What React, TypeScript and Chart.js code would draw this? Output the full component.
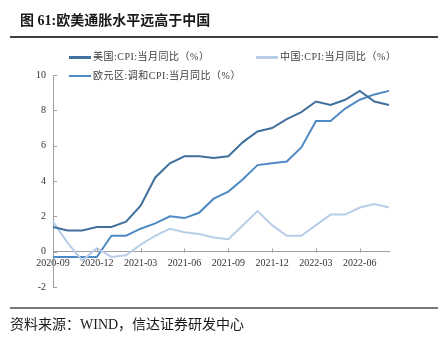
import React, { useEffect, useRef } from "react";
import { Chart, registerables } from "chart.js";

Chart.register(...registerables);

const months = [
  "2020-09", "2020-10", "2020-11", "2020-12",
  "2021-01", "2021-02", "2021-03", "2021-04", "2021-05", "2021-06",
  "2021-07", "2021-08", "2021-09", "2021-10", "2021-11", "2021-12",
  "2022-01", "2022-02", "2022-03", "2022-04", "2022-05", "2022-06",
  "2022-07", "2022-08",
];
const usCPI = [1.4, 1.2, 1.2, 1.4, 1.4, 1.7, 2.6, 4.2, 5.0, 5.4, 5.4, 5.3, 5.4, 6.2, 6.8, 7.0, 7.5, 7.9, 8.5, 8.3, 8.6, 9.1, 8.5, 8.3];
const chinaCPI = [1.7, 0.5, -0.5, 0.2, -0.3, -0.2, 0.4, 0.9, 1.3, 1.1, 1.0, 0.8, 0.7, 1.5, 2.3, 1.5, 0.9, 0.9, 1.5, 2.1, 2.1, 2.5, 2.7, 2.5];
const euroHICP = [-0.3, -0.3, -0.3, -0.3, 0.9, 0.9, 1.3, 1.6, 2.0, 1.9, 2.2, 3.0, 3.4, 4.1, 4.9, 5.0, 5.1, 5.9, 7.4, 7.4, 8.1, 8.6, 8.9, 9.1];
const seriesNames = ["美国:CPI:当月同比（%）", "中国:CPI:当月同比（%）", "欧元区:调和CPI:当月同比（%）"];
const colors = ["#41709C", "#B8CDE8", "#4E8AC4"];
const title = "图 61:欧美通胀水平远高于中国";
const source = "资料来源：WIND，信达证券研发中心";

const FONT = "'Liberation Serif', 'Noto Sans CJK SC', serif";

const tickPlugin = {
  id: "innerTicks",
  afterDatasetsDraw(chart: any) {
    const { ctx, chartArea, scales } = chart;
    const x = scales.x;
    const y = scales.y;
    ctx.save();
    ctx.strokeStyle = "#A0A0A0";
    ctx.lineWidth = 1;
    ctx.beginPath();
    y.ticks.forEach((t: any) => {
      const py = Math.round(y.getPixelForValue(t.value)) + 0.5;
      ctx.moveTo(chartArea.left, py);
      ctx.lineTo(chartArea.left + 4, py);
    });
    const y0 = Math.round(y.getPixelForValue(0)) + 0.5;
    months.forEach((m, i) => {
      if (i % 3 === 0 && i > 0) {
        const px = Math.round(x.getPixelForValue(i)) + 0.5;
        ctx.moveTo(px, y0);
        ctx.lineTo(px, y0 - 4);
      }
    });
    ctx.stroke();
    ctx.restore();
  },
};

export default function App() {
  const ref = useRef<HTMLCanvasElement>(null);
  useEffect(() => {
    document.body.style.margin = "0";
    const chart = new Chart(ref.current!, {
      type: "line",
      data: {
        labels: months,
        datasets: [
          { label: seriesNames[0], data: usCPI, borderColor: colors[0], backgroundColor: colors[0], borderWidth: 2, pointRadius: 0, tension: 0 },
          { label: seriesNames[1], data: chinaCPI, borderColor: colors[1], backgroundColor: colors[1], borderWidth: 2, pointRadius: 0, tension: 0 },
          { label: seriesNames[2], data: euroHICP, borderColor: colors[2], backgroundColor: colors[2], borderWidth: 2, pointRadius: 0, tension: 0 },
        ],
      },
      options: {
        animation: false,
        responsive: false,
        devicePixelRatio: 1,
        layout: { padding: { top: 75, left: 0, right: 56, bottom: 57 } },
        plugins: { legend: { display: false }, tooltip: { enabled: false } },
        scales: {
          x: {
            type: "category",
            position: { y: 0 } as any,
            offset: false,
            grid: { display: false, drawTicks: false },
            border: { display: true, color: "#A0A0A0", width: 1 },
            ticks: {
              autoSkip: false,
              maxRotation: 0,
              minRotation: 0,
              padding: 6,
              color: "#333333",
              font: { family: FONT, size: 10 },
              callback: (_v: any, i: number) => (i % 3 === 0 ? months[i] : ""),
            },
            afterFit: (s: any) => { s.height = 0; },
          },
          y: {
            min: -2,
            max: 10,
            grid: { display: false, drawTicks: false },
            border: { display: true, color: "#A0A0A0", width: 1 },
            ticks: {
              stepSize: 2,
              padding: 7,
              color: "#333333",
              font: { family: FONT, size: 10 },
            },
            afterFit: (s: any) => { s.width = 53; },
          },
        },
      },
      plugins: [tickPlugin],
    });
    return () => chart.destroy();
  }, []);

  const legendItem = (i: number, left: number, top: number, thick: number) => (
    <div style={{ position: "absolute", left, top, display: "flex", alignItems: "center", whiteSpace: "nowrap" }}>
      <div style={{ width: 22, height: thick, background: colors[i], marginRight: 2 }} />
      <span style={{ fontFamily: FONT, fontSize: 10, letterSpacing: "0.5px", color: "#404040", lineHeight: "12px" }}>{seriesNames[i]}</span>
    </div>
  );

  return (
    <div style={{ position: "relative", width: 445, height: 344, background: "#fff", overflow: "hidden" }}>
      <canvas ref={ref} width={445} height={344} style={{ position: "absolute", left: 0, top: 0 }} />
      <div style={{ position: "absolute", left: 20, top: 9, fontFamily: FONT, fontSize: 14, fontWeight: "bold", color: "#1a1a1a", whiteSpace: "nowrap" }}>{title}</div>
      <div style={{ position: "absolute", left: 10, top: 36, width: 428, height: 2, background: "#404040" }} />
      {legendItem(0, 69, 51, 3)}
      {legendItem(1, 256, 51, 3)}
      {legendItem(2, 69, 70, 2)}
      <div style={{ position: "absolute", left: 10, top: 307, width: 428, height: 2, background: "#7a7a7a" }} />
      <div style={{ position: "absolute", left: 10, top: 313, fontFamily: FONT, fontSize: 14, color: "#1a1a1a", whiteSpace: "nowrap" }}>{source}</div>
    </div>
  );
}
